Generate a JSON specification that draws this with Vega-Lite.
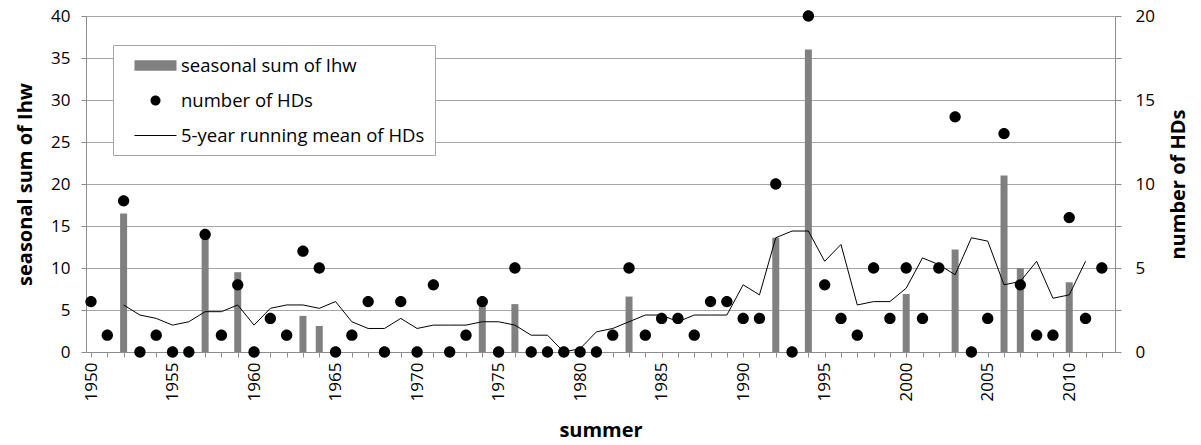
{
  "$schema": "https://vega.github.io/schema/vega-lite/v6.json",
  "width": 1029,
  "height": 336,
  "autosize": {"type": "none"},
  "padding": {"left": 86, "top": 16, "right": 86, "bottom": 93},
  "background": "white",
  "config": {
    "font": "Open Sans",
    "view": {"stroke": null},
    "axis": {
      "labelFont": "Open Sans",
      "titleFont": "Open Sans",
      "labelColor": "#000000",
      "titleColor": "#000000",
      "domainColor": "#8c8c8c",
      "tickColor": "#8c8c8c",
      "gridColor": "#a6a6a6",
      "labelFontSize": 17,
      "titleFontSize": 20,
      "titleFontWeight": "bold"
    },
    "legend": {
      "title": null,
      "orient": "none",
      "legendX": 27,
      "legendY": 29,
      "padding": 10,
      "fillColor": "white",
      "strokeColor": "#a6a6a6",
      "symbolSize": 400,
      "symbolStrokeWidth": 1,
      "symbolOffset": 22,
      "labelOffset": 15,
      "rowPadding": 15,
      "labelFont": "Open Sans",
      "labelFontSize": 18.5,
      "labelColor": "#000000",
      "labelLimit": 0
    }
  },
  "data": {
    "values": [
      {"year": 1950, "hd": 3, "ihw": null, "rm": null},
      {"year": 1951, "hd": 1, "ihw": null, "rm": null},
      {"year": 1952, "hd": 9, "ihw": 16.5, "rm": 2.8},
      {"year": 1953, "hd": 0, "ihw": null, "rm": 2.2},
      {"year": 1954, "hd": 1, "ihw": null, "rm": 2.0},
      {"year": 1955, "hd": 0, "ihw": null, "rm": 1.6},
      {"year": 1956, "hd": 0, "ihw": null, "rm": 1.8},
      {"year": 1957, "hd": 7, "ihw": 14, "rm": 2.4},
      {"year": 1958, "hd": 1, "ihw": null, "rm": 2.4},
      {"year": 1959, "hd": 4, "ihw": 9.5, "rm": 2.8},
      {"year": 1960, "hd": 0, "ihw": null, "rm": 1.6},
      {"year": 1961, "hd": 2, "ihw": null, "rm": 2.6},
      {"year": 1962, "hd": 1, "ihw": null, "rm": 2.8},
      {"year": 1963, "hd": 6, "ihw": 4.3, "rm": 2.8},
      {"year": 1964, "hd": 5, "ihw": 3.1, "rm": 2.6},
      {"year": 1965, "hd": 0, "ihw": null, "rm": 3.0},
      {"year": 1966, "hd": 1, "ihw": null, "rm": 1.8},
      {"year": 1967, "hd": 3, "ihw": null, "rm": 1.4},
      {"year": 1968, "hd": 0, "ihw": null, "rm": 1.4},
      {"year": 1969, "hd": 3, "ihw": null, "rm": 2.0},
      {"year": 1970, "hd": 0, "ihw": null, "rm": 1.4},
      {"year": 1971, "hd": 4, "ihw": null, "rm": 1.6},
      {"year": 1972, "hd": 0, "ihw": null, "rm": 1.6},
      {"year": 1973, "hd": 1, "ihw": null, "rm": 1.6},
      {"year": 1974, "hd": 3, "ihw": 5.8, "rm": 1.8},
      {"year": 1975, "hd": 0, "ihw": null, "rm": 1.8},
      {"year": 1976, "hd": 5, "ihw": 5.7, "rm": 1.6},
      {"year": 1977, "hd": 0, "ihw": null, "rm": 1.0},
      {"year": 1978, "hd": 0, "ihw": null, "rm": 1.0},
      {"year": 1979, "hd": 0, "ihw": null, "rm": 0.0},
      {"year": 1980, "hd": 0, "ihw": null, "rm": 0.2},
      {"year": 1981, "hd": 0, "ihw": null, "rm": 1.2},
      {"year": 1982, "hd": 1, "ihw": null, "rm": 1.4},
      {"year": 1983, "hd": 5, "ihw": 6.6, "rm": 1.8},
      {"year": 1984, "hd": 1, "ihw": null, "rm": 2.2},
      {"year": 1985, "hd": 2, "ihw": null, "rm": 2.2},
      {"year": 1986, "hd": 2, "ihw": null, "rm": 1.8},
      {"year": 1987, "hd": 1, "ihw": null, "rm": 2.2},
      {"year": 1988, "hd": 3, "ihw": null, "rm": 2.2},
      {"year": 1989, "hd": 3, "ihw": null, "rm": 2.2},
      {"year": 1990, "hd": 2, "ihw": null, "rm": 4.0},
      {"year": 1991, "hd": 2, "ihw": null, "rm": 3.4},
      {"year": 1992, "hd": 10, "ihw": 13.6, "rm": 6.8},
      {"year": 1993, "hd": 0, "ihw": null, "rm": 7.2},
      {"year": 1994, "hd": 20, "ihw": 36, "rm": 7.2},
      {"year": 1995, "hd": 4, "ihw": null, "rm": 5.4},
      {"year": 1996, "hd": 2, "ihw": null, "rm": 6.4},
      {"year": 1997, "hd": 1, "ihw": null, "rm": 2.8},
      {"year": 1998, "hd": 5, "ihw": null, "rm": 3.0},
      {"year": 1999, "hd": 2, "ihw": null, "rm": 3.0},
      {"year": 2000, "hd": 5, "ihw": 6.9, "rm": 3.8},
      {"year": 2001, "hd": 2, "ihw": null, "rm": 5.6},
      {"year": 2002, "hd": 5, "ihw": null, "rm": 5.2},
      {"year": 2003, "hd": 14, "ihw": 12.2, "rm": 4.6},
      {"year": 2004, "hd": 0, "ihw": null, "rm": 6.8},
      {"year": 2005, "hd": 2, "ihw": null, "rm": 6.6},
      {"year": 2006, "hd": 13, "ihw": 21, "rm": 4.0},
      {"year": 2007, "hd": 4, "ihw": 10, "rm": 4.2},
      {"year": 2008, "hd": 1, "ihw": null, "rm": 5.4},
      {"year": 2009, "hd": 1, "ihw": null, "rm": 3.2},
      {"year": 2010, "hd": 8, "ihw": 8.3, "rm": 3.4},
      {"year": 2011, "hd": 2, "ihw": null, "rm": 5.4},
      {"year": 2012, "hd": 5, "ihw": null, "rm": null}
    ]
  },
  "encoding": {
    "x": {
      "field": "year",
      "type": "quantitative",
      "scale": {"domain": [1950, 2012.5], "nice": false, "zero": false},
      "axis": {
        "title": "summer",
        "values": [1950, 1951, 1952, 1953, 1954, 1955, 1956, 1957, 1958, 1959, 1960, 1961, 1962, 1963, 1964, 1965, 1966, 1967, 1968, 1969, 1970, 1971, 1972, 1973, 1974, 1975, 1976, 1977, 1978, 1979, 1980, 1981, 1982, 1983, 1984, 1985, 1986, 1987, 1988, 1989, 1990, 1991, 1992, 1993, 1994, 1995, 1996, 1997, 1998, 1999, 2000, 2001, 2002, 2003, 2004, 2005, 2006, 2007, 2008, 2009, 2010, 2011, 2012],
        "format": "d",
        "labelExpr": "datum.value % 5 === 0 ? datum.label : ''",
        "labelAngle": -90,
        "labelOverlap": false,
        "labelFlush": false,
        "labelPadding": 5,
        "tickSize": 5,
        "grid": false,
        "titlePadding": 20
      }
    }
  },
  "layer": [
    {
      "mark": {"type": "bar", "color": "#808080", "size": 7},
      "encoding": {
        "y": {
          "field": "ihw",
          "type": "quantitative",
          "scale": {"domain": [0, 40], "nice": false},
          "axis": {
            "title": "seasonal sum of Ihw",
            "orient": "left",
            "values": [0, 5, 10, 15, 20, 25, 30, 35, 40],
            "tickSize": 5,
            "labelPadding": 11,
            "titlePadding": 15,
            "grid": true
          }
        }
      }
    },
    {
      "layer": [
        {
          "mark": {"type": "line", "color": "#000000", "strokeWidth": 1},
          "encoding": {
            "y": {
              "field": "rm",
              "type": "quantitative",
              "scale": {"domain": [0, 20], "nice": false},
              "axis": {
                "title": "number of HDs",
                "orient": "right",
                "values": [0, 2.5, 5, 7.5, 10, 12.5, 15, 17.5, 20],
                "labelExpr": "datum.value % 5 === 0 ? datum.label : ''",
                "tickSize": 6,
                "labelPadding": 14,
                "titlePadding": 14,
                "titleAngle": -90,
                "titleBaseline": "top",
                "grid": false
              }
            }
          }
        },
        {
          "mark": {"type": "point", "filled": true, "size": 511, "opacity": 1},
          "encoding": {
            "y": {
              "field": "hd",
              "type": "quantitative",
              "scale": {"domain": [0, 20], "nice": false},
              "axis": {
                "title": "number of HDs",
                "orient": "right",
                "values": [0, 2.5, 5, 7.5, 10, 12.5, 15, 17.5, 20],
                "labelExpr": "datum.value % 5 === 0 ? datum.label : ''",
                "tickSize": 6,
                "labelPadding": 14,
                "titlePadding": 14,
                "titleAngle": -90,
                "titleBaseline": "top",
                "grid": false
              }
            },
            "color": {
              "datum": "number of HDs",
              "type": "nominal",
              "scale": {
                "domain": ["seasonal sum of Ihw", "number of HDs", "5-year running mean of HDs"],
                "range": ["#808080", "#000000", "#000000"]
              },
              "legend": {"title": null}
            },
            "shape": {
              "datum": "number of HDs",
              "type": "nominal",
              "scale": {
                "domain": ["seasonal sum of Ihw", "number of HDs", "5-year running mean of HDs"],
                "range": [
                  "M-2.1,-0.53H2.1V0.53H-2.1Z",
                  "M-0.5,0A0.5,0.5 0 1,1 0.5,0A0.5,0.5 0 1,1 -0.5,0Z",
                  "M-2.1,-0.05H2.1V0.05H-2.1Z"
                ]
              },
              "legend": {"title": null}
            }
          }
        }
      ]
    }
  ],
  "resolve": {"scale": {"y": "independent"}}
}
